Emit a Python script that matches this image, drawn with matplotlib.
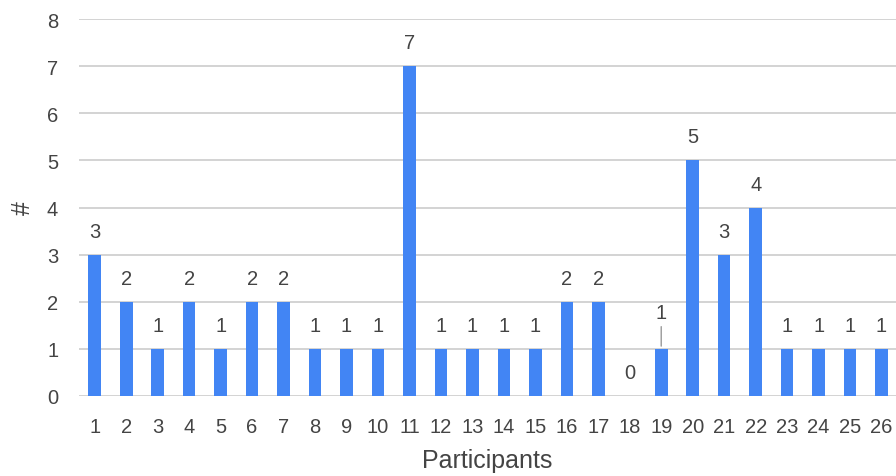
import numpy as np
import matplotlib
matplotlib.use("Agg")
import matplotlib.pyplot as plt

participants = list(range(1, 27))
counts = [3, 2, 1, 2, 1, 2, 2, 1, 1, 1, 7, 1, 1, 1, 1, 2, 2, 0, 1, 5, 3, 4, 1, 1, 1, 1]

bar_color = "#4285F4"
text_color = "#444444"
grid_color = "#cccccc"

plt.rcParams['font.family'] = ['Liberation Sans', 'DejaVu Sans']

fig = plt.figure(figsize=(8.96, 4.77), dpi=100)
ax = fig.add_axes([79/896, 1-397/477, 1-79/896, 377/477])

ax.bar(participants, counts, width=0.4, color=bar_color, zorder=3)

ax.set_xlim(0.5, 26.46)
ax.set_ylim(0, 8)
ax.set_yticks(range(0, 9))
ax.set_xticks(participants)
ax.grid(axis="y", color=grid_color, linewidth=1.2, zorder=0)
for s in ax.spines.values():
    s.set_visible(False)
ax.tick_params(axis="both", length=0, labelsize=14.5, colors=text_color)
ax.tick_params(axis="x", pad=15)
ax.tick_params(axis="y", pad=15)

for x, v in zip(participants, counts):
    if x == 19:
        # label pushed up with a leader line
        ax.annotate(str(v), xy=(x, v), xytext=(0, 19), textcoords="offset points",
                    ha="center", va="bottom", fontsize=14.5, color=text_color,
                    arrowprops=dict(arrowstyle="-", color="#999999", lw=1,
                                    shrinkA=1, shrinkB=2))
    else:
        ax.annotate(str(v), xy=(x, v), xytext=(0, 10), textcoords="offset points",
                    ha="center", va="bottom", fontsize=14.5, color=text_color)

ax.set_xlabel("Participants", fontsize=18, color=text_color, labelpad=9)
ax.set_ylabel("#", fontsize=18, color=text_color, labelpad=9)

fig.savefig("out.png", dpi=100)
